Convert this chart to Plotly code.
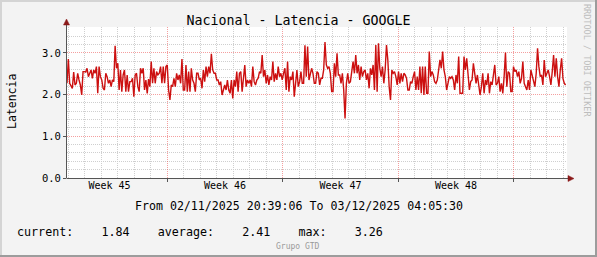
import plotly.graph_objects as go
import pandas as pd

# ---------------- data ----------------
TITLE = "Nacional - Latencia - GOOGLE"
Y_TITLE = "Latencia"
PERIOD_TEXT = "From 02/11/2025 20:39:06 To 03/12/2025 04:05:30"
LEGEND_LABELS = ["current:", "average:", "max:"]
LEGEND_VALUES = ["1.84", "2.41", "3.26"]
FOOTER = "Grupo GTD"
WATERMARK = "RRDTOOL / TOBI OETIKER"

X_START = "2025-11-02 22:04:00"
X_END = "2025-12-03 05:30:24"
DATA_START = "2025-11-02 22:04:00"
DATA_END = "2025-12-03 03:30:00"

WEEK_GRID = ["2025-11-09", "2025-11-16", "2025-11-23", "2025-11-30"]
WEEK_LABEL_POS = ["2025-11-05 12:00", "2025-11-12 12:00",
                  "2025-11-19 12:00", "2025-11-26 12:00"]
WEEK_LABELS = ["Week 45", "Week 46", "Week 47", "Week 48"]

Y_TICKS = [0, 1, 2, 3]
Y_TICK_TEXT = ["0.0", "1.0", "2.0", "3.0"]
Y_MINOR = [0.2, 0.4, 0.6, 0.8, 1.2, 1.4, 1.6, 1.8, 2.2, 2.4, 2.6, 2.8,
           3.2, 3.4, 3.6]

LAT_SEG1 = [2.27, 2.85, 2.27, 2.19, 2.15, 2.54, 2.23, 2.27, 2.51, 2.35, 2.23,
            1.99, 2.55, 2.55, 2.54, 2.63, 2.43, 2.51, 2.59, 2.39, 2.59, 2.51,
            2.67, 2.03, 2.67, 2.43, 2.35, 2.15, 2.11, 2.51, 2.43, 2.27, 2.35,
            2.19, 2.35, 2.31, 3.17, 2.63, 2.75, 2.11, 2.59, 2.07, 2.47, 2.59,
            2.07, 2.47, 2.07, 2.31, 2.31, 2.39, 1.95, 2.47, 2.51, 2.19, 2.07,
            2.63, 2.51, 2.63, 2.11, 2.35, 2.03]
LAT_SEG2 = [2.37, 2.19, 2.79, 2.27, 2.63, 2.27, 2.55, 2.47, 2.51, 2.67, 2.27,
            2.67, 2.27, 2.67, 2.71, 2.11, 1.87, 2.23, 2.19, 2.39, 2.19, 2.51,
            2.35, 2.47, 2.27, 2.85, 2.11, 2.11, 2.71, 2.07, 2.55, 2.07, 2.63,
            2.35, 2.27, 2.07, 2.51, 2.51, 2.35, 2.39, 2.15, 2.59, 2.31, 2.67,
            2.43, 2.67, 2.51, 2.98, 2.59, 2.51, 2.51, 2.35, 2.35, 2.23, 2.31,
            1.99, 2.11, 2.23, 2.11, 2.35]
LAT_SEG3 = [2.11, 2.03, 2.35, 1.91, 2.35, 2.19, 2.55, 2.07, 2.51, 2.55, 2.07,
            2.43, 2.71, 2.19, 2.35, 2.27, 2.35, 2.19, 2.67, 2.31, 2.23, 2.35,
            2.39, 2.55, 2.51, 2.95, 2.43, 2.59, 2.27, 2.47, 2.23, 2.43, 2.35,
            2.79, 2.31, 2.51, 2.35, 2.67, 2.43, 2.51, 2.35, 2.51, 2.63, 2.11,
            2.79, 2.07, 2.43, 2.35, 2.55, 1.95, 2.35, 2.59, 2.19, 2.31, 2.55,
            2.27, 2.27, 3.18, 2.43, 3.15, 2.35, 2.47]
LAT_SEG4 = [2.63, 2.51, 2.27, 2.27, 2.55, 2.51, 2.23, 2.39, 2.39, 2.59, 3.26,
            2.71, 2.63, 2.67, 2.51, 2.07, 2.07, 2.75, 2.43, 2.99, 2.47, 2.47,
            2.27, 2.51, 2.11, 1.43, 2.27, 2.51, 2.27, 2.31, 2.59, 2.79, 2.51,
            2.95, 2.51, 2.71, 2.35, 2.67, 2.43, 2.55, 2.59, 2.35, 2.51, 2.15,
            2.63, 2.47, 2.71, 2.11, 3.19, 2.07, 3.23, 2.63, 2.43, 2.67, 2.27,
            2.59, 3.19, 2.83, 2.19, 1.87, 2.59, 2.51]
LAT_SEG5 = [2.55, 2.43, 2.23, 2.55, 2.27, 2.51, 2.31, 2.51, 2.47, 2.39, 2.11,
            2.11, 2.31, 2.27, 2.43, 2.55, 2.11, 2.43, 2.11, 2.67, 2.03, 2.67,
            1.99, 2.67, 2.03, 2.03, 3.03, 2.43, 2.55, 2.47, 2.31, 2.27, 2.35,
            2.67, 2.83, 2.63, 3.03, 2.59, 2.43, 2.11, 2.31, 2.43, 2.39, 2.43,
            2.35, 2.11, 2.47, 2.27, 2.91, 2.03, 2.03, 2.03, 2.91, 2.59, 2.87,
            2.43, 2.11, 2.31, 2.35, 2.75, 2.51, 2.27, 2.47, 2.27, 1.99]
LAT_SEG6 = [2.19, 2.51, 2.03, 2.35, 2.23, 2.51, 2.03, 2.31, 2.23, 2.47, 2.71,
            2.23, 2.27, 2.43, 2.07, 2.27, 2.03, 2.43, 3.01, 2.19, 2.55, 2.51,
            2.07, 2.07, 2.67, 2.55, 2.59, 2.43, 2.55, 2.27, 2.39, 2.79, 2.27,
            2.19, 2.11, 2.35, 2.11, 2.59, 2.47, 2.35, 2.19, 2.51, 3.11, 2.67,
            2.43, 2.47, 2.23, 2.83, 2.43, 2.51, 2.59, 2.43, 2.23, 2.55, 2.95,
            2.43, 2.87, 2.43, 2.19, 2.59, 2.87, 2.39, 2.27, 2.23]

LATENCIA = LAT_SEG1 + LAT_SEG2 + LAT_SEG3 + LAT_SEG4 + LAT_SEG5 + LAT_SEG6
TIMES = pd.date_range(DATA_START, DATA_END, periods=len(LATENCIA))
DAY_GRID = [d for d in pd.date_range("2025-11-03", "2025-12-03", freq="D")
            if d.strftime("%Y-%m-%d") not in WEEK_GRID]

# ---------------- layout constants ----------------
W, H = 597, 257
L, R, T, B = 67, 30, 27, 79
PW, PH = W - L - R, H - T - B
MONO = "DejaVu Sans Mono"
BG = "#f3f3f3"


def px(x):
    return (x - L) / PW


def py(y):
    return (H - B - y) / PH


fig = go.Figure()
fig.add_trace(go.Scatter(x=TIMES, y=LATENCIA, mode="lines",
                         line=dict(color="#cc1010", width=1.4),
                         hoverinfo="skip", showlegend=False))
fig.add_trace(go.Scatter(x=TIMES, y=LATENCIA, mode="lines", xaxis="x2",
                         line=dict(color="rgba(0,0,0,0)", width=0),
                         hoverinfo="skip", showlegend=False))

MAJOR_GRID = "rgba(235,80,80,0.55)"
MINOR_GRID = "#cfcfcf"
DASH = "1px,1px"

fig.update_layout(
    width=W, height=H,
    margin=dict(l=L, r=R, t=T, b=B, pad=0),
    paper_bgcolor=BG, plot_bgcolor="white",
    font=dict(family=MONO, color="#000000", size=10),
    title=dict(text=TITLE, x=0.5, xanchor="center", xref="container",
               y=1 - 20 / H, yanchor="middle", yref="container",
               font=dict(family=MONO, size=13.3, color="#000000")),
    xaxis=dict(type="date", range=[X_START, X_END], tickvals=WEEK_GRID,
               showticklabels=False, showgrid=True, gridcolor=MAJOR_GRID,
               griddash=DASH, gridwidth=1, ticks="outside", ticklen=3,
               tickcolor="#555555", showline=False, zeroline=False,
               minor=dict(tickvals=DAY_GRID, showgrid=True,
                          gridcolor=MINOR_GRID, griddash=DASH, gridwidth=1)),
    xaxis2=dict(type="date", range=[X_START, X_END], overlaying="x",
                anchor="y", side="bottom", tickvals=WEEK_LABEL_POS,
                ticktext=WEEK_LABELS, showgrid=False, ticks="",
                showline=False, zeroline=False,
                tickfont=dict(family=MONO, size=10, color="#000000")),
    yaxis=dict(range=[0, 3.62], tickvals=Y_TICKS, ticktext=Y_TICK_TEXT,
               showgrid=True, gridcolor=MAJOR_GRID, griddash=DASH,
               gridwidth=1, ticks="outside", ticklen=3,
               tickcolor="#555555", showline=False, zeroline=False,
               tickfont=dict(family=MONO, size=10.5, color="#000000"),
               minor=dict(tickvals=Y_MINOR, showgrid=True,
                          gridcolor=MINOR_GRID, griddash=DASH, gridwidth=1)),
)

shapes = []
# axis lines
shapes.append(dict(type="line", xref="paper", yref="paper",
                   x0=px(66.5), x1=px(66.5), y0=py(178), y1=py(23),
                   line=dict(color="#555555", width=1)))
shapes.append(dict(type="line", xref="paper", yref="paper",
                   x0=px(66.5), x1=px(569), y0=py(178.5), y1=py(178.5),
                   line=dict(color="#555555", width=1)))
# arrows
ARROW = "#8b1a1a"
shapes.append(dict(type="path", xref="paper", yref="paper",
                   path=f"M {px(66.5)} {py(19)} L {px(63.5)} {py(25)} "
                        f"L {px(69.5)} {py(25)} Z",
                   fillcolor=ARROW, line=dict(color=ARROW, width=0.5)))
shapes.append(dict(type="path", xref="paper", yref="paper",
                   path=f"M {px(574)} {py(178.5)} L {px(568)} {py(175.5)} "
                        f"L {px(568)} {py(181.5)} Z",
                   fillcolor=ARROW, line=dict(color=ARROW, width=0.5)))
# 3D frame
LIGHT, DARK = "#d4d4d4", "#9c9c9c"
shapes.append(dict(type="rect", xref="paper", yref="paper", layer="above",
                   x0=px(0), x1=px(W), y0=py(0), y1=py(2),
                   fillcolor=LIGHT, line=dict(width=0)))
shapes.append(dict(type="rect", xref="paper", yref="paper", layer="above",
                   x0=px(0), x1=px(2), y0=py(0), y1=py(H),
                   fillcolor=LIGHT, line=dict(width=0)))
shapes.append(dict(type="rect", xref="paper", yref="paper", layer="above",
                   x0=px(W - 2), x1=px(W), y0=py(0), y1=py(H),
                   fillcolor=DARK, line=dict(width=0)))
shapes.append(dict(type="rect", xref="paper", yref="paper", layer="above",
                   x0=px(0), x1=px(W), y0=py(H - 2), y1=py(H),
                   fillcolor=DARK, line=dict(width=0)))
fig.update_layout(shapes=shapes)

NB = "\u00a0"
legend_text = ""
for lab, val in zip(LEGEND_LABELS, LEGEND_VALUES):
    if legend_text:
        legend_text += NB * 4
    legend_text += lab + NB * (8 - len(val)) + val

annotations = [
    dict(text=Y_TITLE, x=px(12), y=py(102), textangle=-90,
         xanchor="center", yanchor="middle",
         font=dict(family=MONO, size=11.5, color="#000000")),
    dict(text=PERIOD_TEXT, x=px(299), y=py(205.5),
         xanchor="center", yanchor="middle",
         font=dict(family=MONO, size=11.6, color="#000000")),
    dict(text=legend_text, x=px(15), y=py(232),
         xanchor="left", yanchor="middle",
         font=dict(family=MONO, size=11.7, color="#000000")),
    dict(text=FOOTER, x=px(298), y=py(246),
         xanchor="center", yanchor="middle",
         font=dict(family=MONO, size=8, color="#9a9a9a")),
    dict(text=WATERMARK, x=px(587), y=py(60), textangle=90,
         xanchor="center", yanchor="middle",
         font=dict(family=MONO, size=8.5, color="#bdbdbd")),
]
for a in annotations:
    a.update(xref="paper", yref="paper", showarrow=False)
fig.update_layout(annotations=annotations)

fig.write_html("out.html")
